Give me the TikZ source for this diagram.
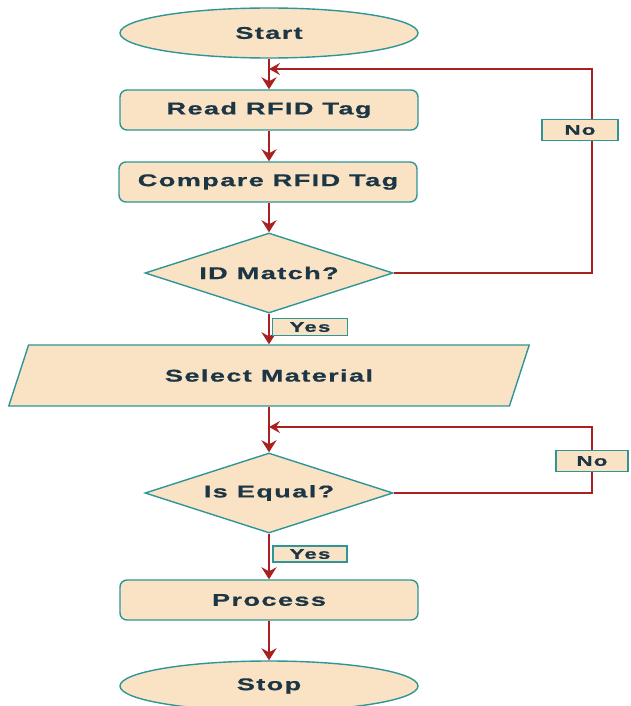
\documentclass[tikz,border=0pt]{standalone}
\usepackage{fontspec}
\setmainfont{Liberation Sans}[FakeStretch=1.6,LetterSpace=8,FakeBold=0.6]
\usetikzlibrary{shapes.geometric,arrows.meta}
\definecolor{fillc}{HTML}{FAE3C5}
\definecolor{edgec}{HTML}{2E9696}
\definecolor{txtc}{HTML}{1C3645}
\definecolor{arrc}{HTML}{A8201F}
\begin{document}
\begin{tikzpicture}[x=1pt,y=-1pt,
  base/.style={draw=edgec, fill=fillc, line width=1.4pt, text=txtc, font=\fontsize{17}{19}\selectfont\bfseries, inner sep=0pt},
  term/.style={base, ellipse, minimum width=298pt, minimum height=50pt},
  proc/.style={base, rectangle, rounded corners=7pt, minimum width=298pt, minimum height=40pt},
  dec/.style={base, diamond, shape aspect=3.1, minimum width=248pt, minimum height=80pt},
  io/.style={base, trapezium, trapezium left angle=55.5, trapezium right angle=124.5, trapezium stretches=true, minimum width=522pt, minimum height=61pt},
  lbl/.style={draw=edgec, fill=fillc, line width=1.8pt, text=txtc, font=\fontsize{14}{16}\selectfont\bfseries, inner sep=0pt},
  arr/.style={draw=arrc, line width=2pt, -{Stealth[length=12pt,width=15pt,inset=4pt]}},
  back/.style={draw=arrc, line width=1.5pt, -{Stealth[length=11pt,width=12pt,inset=4pt]}}
]
\useasboundingbox (0,0) rectangle (630,706);
\fill[white] (0,0) rectangle (630,706);

\node[term] (start) at (269,33) {Start};
\node[proc] (read) at (269,110) {Read RFID Tag};
\node[proc] (comp) at (268,182) {Compare RFID Tag};
\node[dec] (idm) at (269,273) {ID Match?};
\node[io] (sel) at (269,375.5) {Select Material};
\node[dec] (ieq) at (269,493) {Is Equal?};
\node[proc] (proc) at (269,600) {Process};
\node[term] (stop) at (269,686) {Stop};

\coordinate (t1) at (592,69);
\coordinate (j1) at (269,69);
\coordinate (t2) at (592,427);
\coordinate (j2) at (269,427);

\draw[arr] (start) -- (read);
\draw[arr] (read) -- (read.south |- comp.north);
\draw[arr] (comp.south -| idm.north) -- (idm.north);
\draw[arr] (idm.south) -- (idm.south |- sel.north);
\draw[arr] (ieq.north |- sel.south) -- (ieq.north);
\draw[arr] (ieq.south) -- (proc.north);
\draw[arr] (proc) -- (stop);

\draw[back] (idm.east) -| (t1) -- (j1);
\draw[back] (ieq.east) -| (t2) -- (j2);

\node[lbl, minimum width=76pt, minimum height=21pt] (no1) at (580,130) {No};
\node[lbl, minimum width=75pt, minimum height=17pt] (yes1) at (310,327) {Yes};
\node[lbl, minimum width=72pt, minimum height=21pt] (no2) at (592,461) {No};
\node[lbl, minimum width=74pt, minimum height=16pt] (yes2) at (310,554) {Yes};
\end{tikzpicture}
\end{document}
